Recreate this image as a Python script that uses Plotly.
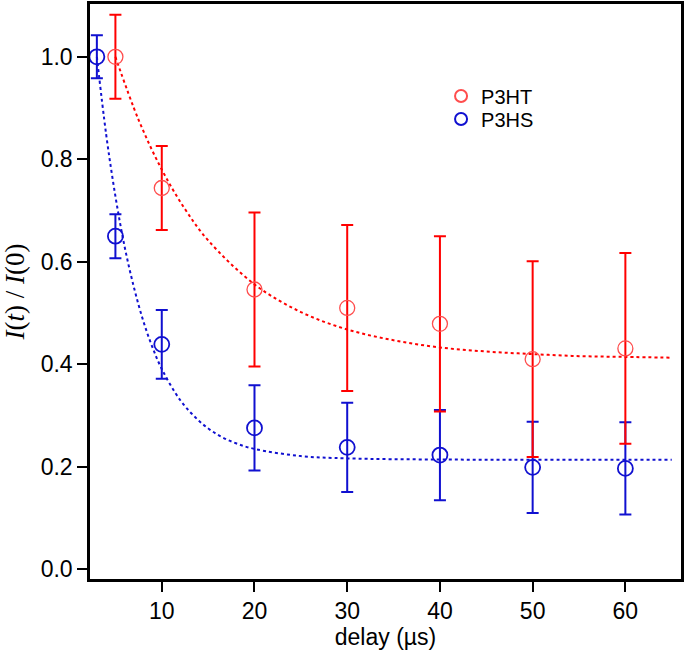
import plotly.graph_objects as go

# Measured data
t_p3ht = [5, 10, 20, 30, 40, 50, 60]
y_p3ht = [1.0, 0.744, 0.546, 0.510, 0.479, 0.410, 0.431]
e_p3ht = [0.082, 0.082, 0.150, 0.162, 0.171, 0.191, 0.186]

t_p3hs = [3, 5, 10, 20, 30, 40, 50, 60]
y_p3hs = [1.0, 0.650, 0.439, 0.276, 0.238, 0.223, 0.199, 0.197]
e_p3hs = [0.042, 0.043, 0.067, 0.083, 0.087, 0.088, 0.089, 0.090]

# Fit curves, values
fit_t_p3ht = [5, 7.5, 10, 12.5, 15, 20, 25, 30, 35, 40, 45, 50, 55, 60, 65]
fit_y_p3ht = [1.000, 0.877, 0.780, 0.703, 0.642, 0.556, 0.502, 0.468, 0.447,
              0.433, 0.425, 0.420, 0.416, 0.4145, 0.413]

fit_t_p3hs = [3, 4, 5, 6, 7, 8, 9, 10, 12, 14, 16, 18, 20, 25, 30, 40, 50, 65]
fit_y_p3hs = [1.000, 0.849, 0.728, 0.629, 0.550, 0.485, 0.433, 0.391, 0.330,
              0.290, 0.263, 0.246, 0.235, 0.221, 0.2165, 0.2143, 0.214, 0.214]

x_ticks = [10, 20, 30, 40, 50, 60]
y_ticks = [0.0, 0.2, 0.4, 0.6, 0.8, 1.0]

RED = "#ff0000"
RED_MK = "#ff4d4d"
BLUE = "#1010d0"
SANS = "Liberation Sans, Arial, sans-serif"

fig = go.Figure()

fig.add_trace(go.Scatter(
    x=fit_t_p3ht, y=fit_y_p3ht, mode="lines", line=dict(color=RED, width=2, dash="dot", shape="spline"),
    showlegend=False, hoverinfo="skip"))
fig.add_trace(go.Scatter(
    x=fit_t_p3hs, y=fit_y_p3hs, mode="lines", line=dict(color=BLUE, width=2, dash="dot", shape="spline"),
    showlegend=False, hoverinfo="skip"))

fig.add_trace(go.Scatter(
    x=t_p3hs, y=y_p3hs, mode="markers", name="P3HS", legend="legend2",
    marker=dict(symbol="circle-open", size=15, color=BLUE, line=dict(width=1.8, color=BLUE)),
    error_y=dict(type="data", array=e_p3hs, color=BLUE, thickness=2, width=6)))
fig.add_trace(go.Scatter(
    x=t_p3ht, y=y_p3ht, mode="markers", name="P3HT", legend="legend",
    marker=dict(symbol="circle-open", size=15, color=RED_MK, line=dict(width=1.3, color=RED_MK)),
    error_y=dict(type="data", array=e_p3ht, color=RED, thickness=2, width=6)))

axis_common = dict(
    showline=True, linecolor="black", linewidth=2.5, mirror=True,
    ticks="outside", ticklen=10, tickwidth=2, tickcolor="black",
    showgrid=False, zeroline=False,
    tickfont=dict(family=SANS, size=23, color="black"),
)

legend_common = dict(xanchor="left", yanchor="middle", bgcolor="rgba(0,0,0,0)",
                     itemsizing="constant", font=dict(family=SANS, size=20, color="black"))

fig.update_layout(
    width=685, height=651,
    margin=dict(l=90, r=2, t=1, b=72),
    plot_bgcolor="white", paper_bgcolor="white",
    xaxis=dict(range=[2.26, 66.0], tickvals=x_ticks, ticktext=[str(v) for v in x_ticks],
               title=dict(text="delay (µs)", standoff=2,
                          font=dict(family=SANS, size=23, color="black")),
               **axis_common),
    yaxis=dict(range=[-0.0188, 1.103], tickvals=y_ticks, ticktext=[f"{v:.1f}" for v in y_ticks],
               title=dict(text="<i>I</i>(<i>t</i>) / <i>I</i>(0)", standoff=9,
                          font=dict(family="Liberation Serif, Times New Roman, serif", size=27, color="black")),
               **axis_common),
    legend=dict(x=0.594, y=0.840, **legend_common),
    legend2=dict(x=0.594, y=0.800, **legend_common),
)

fig.write_html("out.html", config={"displayModeBar": False},
               post_script="document.body.style.margin='0';")
